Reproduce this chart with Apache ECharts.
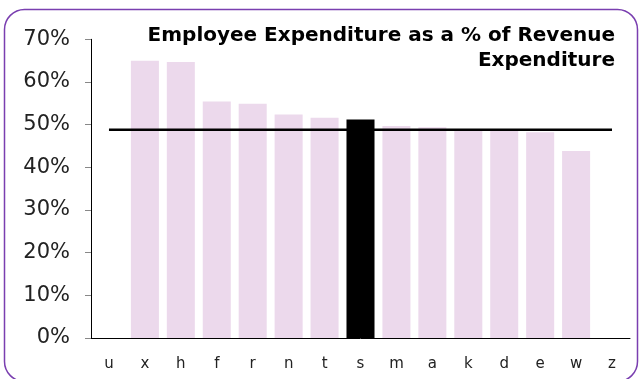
<!DOCTYPE html>
<html>
<head>
<meta charset="utf-8">
<script src="https://cdn.jsdelivr.net/npm/echarts@6/dist/echarts.min.js"></script>
<style>html,body{margin:0;padding:0;background:#fff;}#c{width:639px;height:379px;}</style>
</head>
<body>
<div id="c"></div>
<script>
var categories = ['u','x','h','f','r','n','t','s','m','a','k','d','e','w','z'];
var barValues = [null,65.0,64.7,55.4,54.9,52.4,51.6,51.2,49.7,49.4,48.7,48.5,48.2,43.8,null];
var averageValue = 48.8;
var highlightCategory = 's';
var yTicks = [0,10,20,30,40,50,60,70];
var titleText = 'Employee Expenditure as a % of Revenue\nExpenditure';

var chart = echarts.init(document.getElementById('c'), null, {renderer:'canvas'});
var barData = barValues.map(function(v,i){
  return {value:v, itemStyle:{color: categories[i]===highlightCategory ? '#000000' : '#ecd9ec'}};
});
var lineData = categories.map(function(){return averageValue;});
chart.setOption({
  animation:false,
  backgroundColor:'#ffffff',
  grid:{left:91, right:9, top:39.3, bottom:41, containLabel:false},
  xAxis:{
    type:'category', data:categories,
    axisLine:{lineStyle:{color:'#000', width:1}},
    axisTick:{show:false},
    axisLabel:{color:'#222', fontFamily:'DejaVu Sans', fontSize:15, margin:19}
  },
  yAxis:{
    type:'value', min:yTicks[0], max:yTicks[yTicks.length-1], interval:10,
    axisLine:{show:true, lineStyle:{color:'#000', width:1}},
    axisTick:{show:true, length:6, lineStyle:{color:'#888'}},
    splitLine:{show:false},
    axisLabel:{color:'#222', fontFamily:'DejaVu Sans', fontSize:21, margin:21, formatter:'{value}%'}
  },
  series:[
    {type:'bar', data:barData, barCategoryGap:'22%', z:2},
    {type:'line', data:lineData, symbol:'none', lineStyle:{color:'#000', width:2.5}, z:3, silent:true}
  ],
  graphic:[{
    type:'rect', silent:true,
    shape:{x:4.5, y:9.5, width:633, height:372, r:20},
    style:{fill:'none', stroke:'#7a3fb0', lineWidth:1.5}
  },{
    type:'text', silent:true, x:615, y:23,
    style:{text:titleText, align:'right', verticalAlign:'top', fill:'#000',
      font:'bold 20px "DejaVu Sans"', lineHeight:25}
  }]
});
</script>
</body>
</html>
